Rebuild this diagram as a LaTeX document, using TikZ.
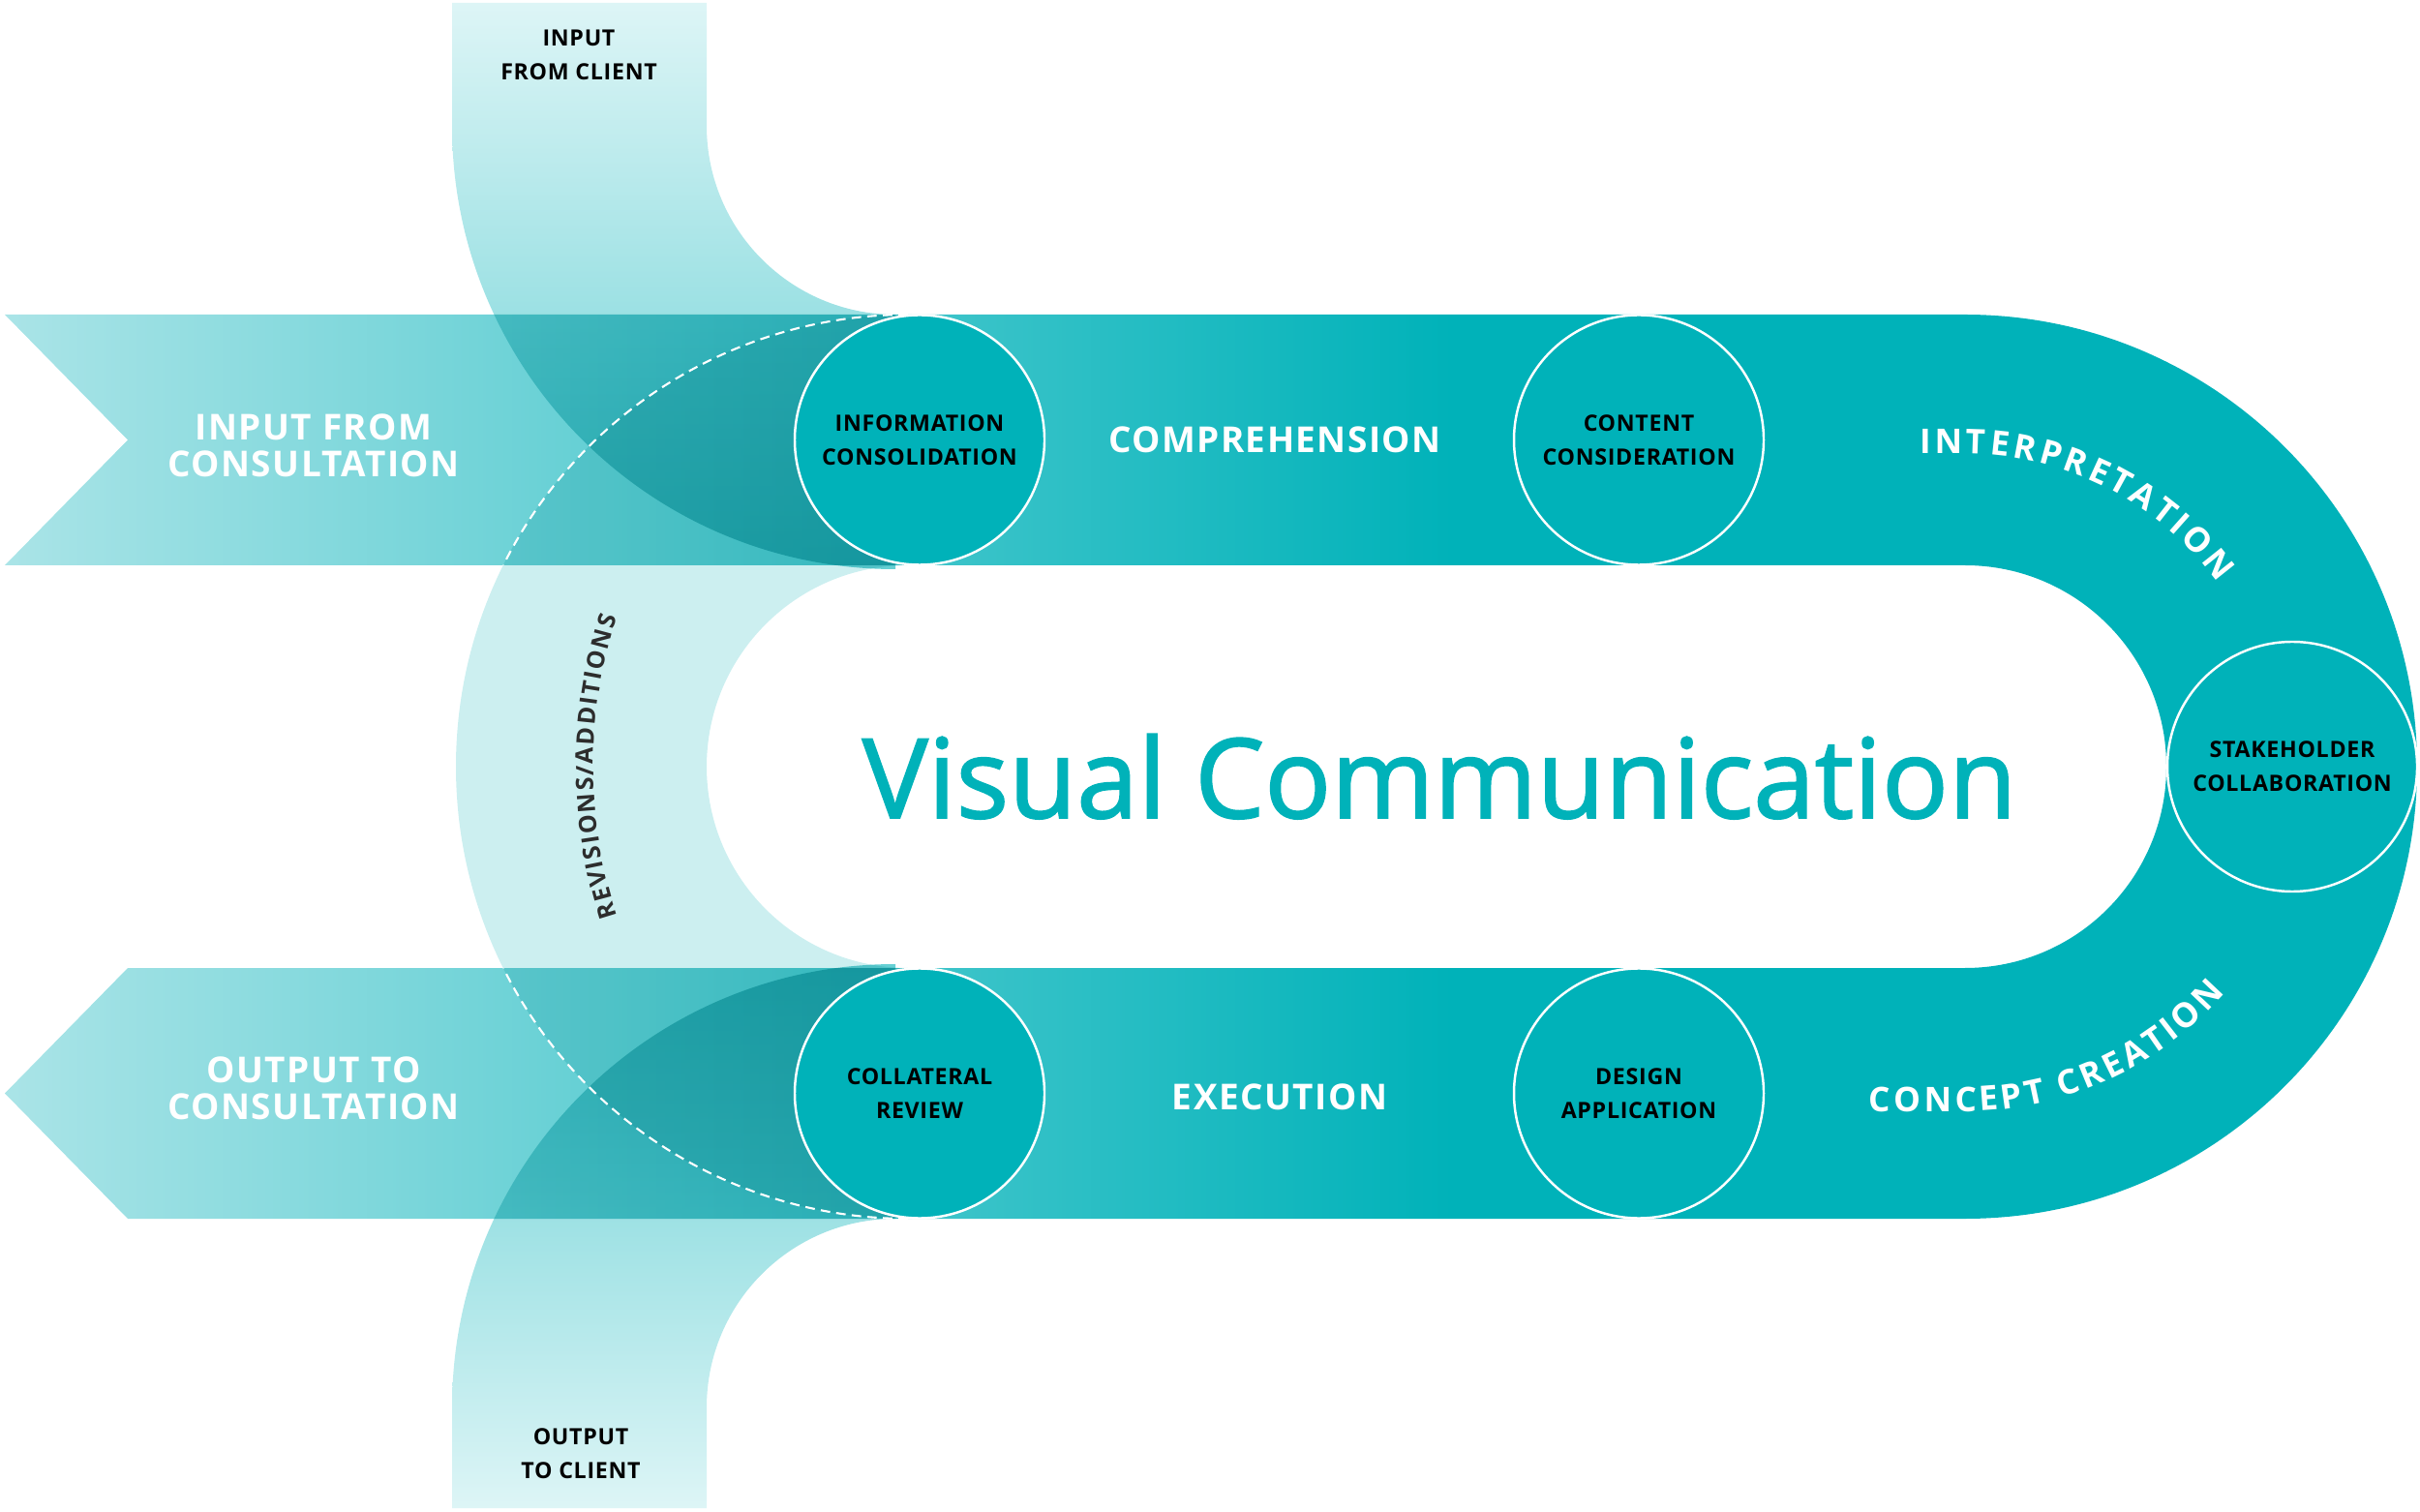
\documentclass[tikz,border=0pt]{standalone}
\usepackage{fontspec}
\setmainfont{Open Sans}
\newfontfamily\widefont[LetterSpace=4]{Open Sans}
\newfontfamily\smallfont[LetterSpace=3]{Open Sans}
\newfontfamily\titlefont[FakeBold=1.6]{Open Sans}
\usetikzlibrary{decorations.text}
\definecolor{vcteal}{HTML}{00B2B9}
\definecolor{vclight}{HTML}{AAE4E7}
\definecolor{revfill}{HTML}{CCEFF0}
\definecolor{streamtop}{HTML}{DDF5F6}
\definecolor{streambot}{HTML}{66D0D4}
\definecolor{revtext}{HTML}{2D2D2D}
\pgfdeclarehorizontalshading{trackshade}{100bp}{color(0bp)=(vclight); color(25bp)=(vclight); color(55bp)=(vcteal); color(100bp)=(vcteal)}
\tikzstyle{stage} = [circle, minimum size=2.58cm, inner sep=0pt, fill=vcteal, draw=white, line width=0.7pt, align=center, text=black, font=\smallfont\bfseries\fontsize{6.6}{10}\selectfont]
\tikzstyle{bandtext} = [text=white, align=center, font=\widefont\bfseries\fontsize{10.5}{10.8}\selectfont]
\tikzstyle{clienttext} = [text=black, align=center, font=\smallfont\bfseries\fontsize{6.6}{10}\selectfont]
\tikzstyle{revline} = [white, line width=0.6pt, dash pattern=on 2.8pt off 1.8pt]

\begin{document}
\begin{tikzpicture}
        \useasboundingbox (0,0) rectangle (25,15.61);

        % Main track
        \shade[shading=trackshade] (0.05,12.36) -- (20.30,12.36) arc[start angle=90, end angle=-90, radius=4.67]
            -- (1.32,3.02) -- (0.05,4.315) -- (1.32,5.61) -- (20.30,5.61) arc[start angle=-90, end angle=90, radius=2.08]
            -- (0.05,9.77) -- (1.32,11.065) -- cycle;

        % Revisions loop and client streams
        \begin{scope}[blend mode=multiply]
        \fill[revfill] (9.38,12.36) arc[start angle=90, end angle=270, radius=4.67]
            -- (9.38,5.61) arc[start angle=270, end angle=90, radius=2.08] -- cycle;
        \shade[top color=streamtop, bottom color=streambot] (4.67,15.58) -- (4.67,14.31) arc[start angle=180, end angle=270, radius=4.58]
            -- (9.25,12.36) arc[start angle=270, end angle=180, radius=1.95] -- (7.30,15.58) -- cycle;
        \shade[top color=streambot, bottom color=streamtop] (4.67,0.03) -- (4.67,1.07) arc[start angle=180, end angle=90, radius=4.58]
            -- (9.25,3.02) arc[start angle=90, end angle=180, radius=1.95] -- (7.30,0.03) -- cycle;
        \end{scope}

        % Dashed edge of loop
        \draw[revline] (9.38,12.36) arc[start angle=90, end angle=153.5, radius=4.67];
        \draw[revline] (9.38,3.02) arc[start angle=270, end angle=206.5, radius=4.67];

        % Stages
        \node (info) at (9.50,11.065) [stage] {INFORMATION\\CONSOLIDATION};
        \node (content) at (16.93,11.065) [stage] {CONTENT\\CONSIDERATION};
        \node (stake) at (23.68,7.69) [stage] {STAKEHOLDER\\COLLABORATION};
        \node (design) at (16.93,4.315) [stage] {DESIGN\\APPLICATION};
        \node (collat) at (9.50,4.315) [stage] {COLLATERAL\\REVIEW};

        % Band labels
        \node (compr) at (13.17,11.065) [bandtext] {COMPREHENSION};
        \node (exec) at (13.22,4.28) [bandtext] {EXECUTION};
        \node (incons) at (3.24,11.005) [bandtext] {INPUT FROM\\CONSULTATION};
        \node (outcons) at (3.24,4.365) [bandtext] {OUTPUT TO\\CONSULTATION};

        % Client labels
        \node (inclient) at (5.98,15.045) [clienttext] {INPUT\\FROM CLIENT};
        \node (outclient) at (6.00,0.595) [clienttext] {OUTPUT\\TO CLIENT};

        % Curved labels
        \path[decorate, decoration={text along path, text align={fit to path},
            text={|\bfseries\fontsize{10}{12}\selectfont\color{white}|INTERPRETATION}}]
            (19.83,10.92) -- (20.30,10.92) arc[start angle=90, end angle=36, radius=3.23];
        \path[decorate, decoration={text along path, text align={fit to path},
            text={|\bfseries\fontsize{10}{12}\selectfont\color{white}|CONCEPT CREATION}}]
            (19.30,4.13) -- (20.30,4.13) arc[start angle=270, end angle=319, radius=3.56];
        \path[decorate, decoration={text along path, text align={fit to path},
            text={|\bfseries\fontsize{7.1}{9}\selectfont\color{revtext}|REVISIONS/ADDITIONS}}]
            (6.375,6.145) arc[start angle=198, end angle=162, radius=5.0];

        % Title
        \node (title) at (14.87,7.16) [anchor=base, text=vcteal, font=\titlefont\fontsize{32.5}{38}\selectfont] {Visual Communication};
\end{tikzpicture}
\end{document}
